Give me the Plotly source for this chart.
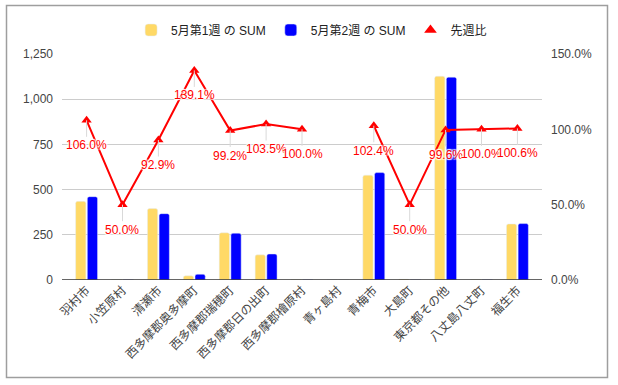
import plotly.graph_objects as go

categories = ["羽村市", "小笠原村", "清瀬市", "西多摩郡奥多摩町", "西多摩郡瑞穂町", "西多摩郡日の出町",
              "西多摩郡檜原村", "青ヶ島村", "青梅市", "大島町", "東京都その他", "八丈島八丈町", "福生市"]
week1 = [435, 2, 395, 23, 261, 139, 1, 0, 580, 4, 1127, 1, 310]
week2 = [461, 1, 367, 32, 259, 144, 1, 0, 594, 2, 1122, 1, 312]
ratio = [106.0, 50.0, 92.9, 139.1, 99.2, 103.5, 100.0, None, 102.4, 50.0, 99.6, 100.0, 100.6]

left_ticks = [0, 250, 500, 750, 1000, 1250]
left_labels = ["0", "250", "500", "750", "1,000", "1,250"]
right_ticks = [0, 50, 100, 150]
right_labels = ["0.0%", "50.0%", "100.0%", "150.0%"]

FONT = "Arial, 'Liberation Sans', 'Noto Sans CJK JP', sans-serif"
W, H = 618, 385
ML, MR, MT, MB = 62, 76, 54, 105
pw = W - ML - MR
ph = H - MT - MB

fig = go.Figure()
fig.add_trace(go.Bar(x=categories, y=week1, name="5月第1週 の SUM", marker_color="#ffd966"))
fig.add_trace(go.Bar(x=categories, y=week2, name="5月第2週 の SUM", marker_color="#0000ff"))
fig.add_trace(go.Scatter(x=categories, y=ratio, name="先週比", yaxis="y2", mode="lines+markers",
                         line=dict(color="#ff0000", width=2),
                         marker=dict(symbol="triangle-up", size=9, color="#ff0000"),
                         connectgaps=False, showlegend=False))
# legend entry for the ratio series (marker only, as in the reference legend)
fig.add_trace(go.Scatter(x=[None], y=[None], name="先週比", yaxis="y2", mode="markers",
                         marker=dict(symbol="triangle-up", size=11, color="#ff0000")))

annotations = []
for c, r in zip(categories, ratio):
    if r is None:
        continue
    annotations.append(dict(
        x=c, y=r, xref="x", yref="y2", text=f"{r:.1f}%",
        showarrow=True, arrowhead=0, arrowwidth=1, arrowcolor="#d9d9d9",
        ax=0, ay=25, standoff=0,
        font=dict(family=FONT, size=12, color="#ff0000",
                  shadow="1px 1px 1px #fff, -1px -1px 1px #fff, 1px -1px 1px #fff, -1px 1px 1px #fff"),
    ))

def px_to_paper_x(px):
    return (px - ML) / pw

def px_to_paper_y(py):
    return (H - MB - py) / ph

shapes = [
    dict(type="rect", xref="paper", yref="paper",
         x0=px_to_paper_x(6.5), x1=px_to_paper_x(607.5),
         y0=px_to_paper_y(377.5), y1=px_to_paper_y(5.5),
         line=dict(color="#9e9e9e", width=1.5), fillcolor="rgba(0,0,0,0)", layer="below"),
    dict(type="line", xref="paper", yref="y", x0=0, x1=1, y0=0, y1=0,
         line=dict(color="#333333", width=1.5), layer="above"),
]

n = len(categories)
fig.update_layout(
    width=W, height=H,
    margin=dict(l=ML, r=MR, t=MT, b=MB, pad=0),
    paper_bgcolor="white", plot_bgcolor="white",
    font=dict(family=FONT, size=12, color="#444"),
    barmode="group", bargap=0.35, bargroupgap=0.12, barcornerradius=2,
    showlegend=True,
    legend=dict(orientation="h", x=0.52, xanchor="center", y=px_to_paper_y(30), yanchor="middle",
                font=dict(family=FONT, size=12, color="#222"), itemwidth=30, traceorder="normal"),
    xaxis=dict(type="category", range=[-0.685, n - 1 + 0.685], tickangle=-45,
               showgrid=False, ticks="", tickfont=dict(size=12, color="#444"), showline=False),
    yaxis=dict(range=[0, 1250], tickmode="array", tickvals=left_ticks, ticktext=left_labels,
               showgrid=True, gridcolor="#cccccc", zeroline=False,
               tickfont=dict(size=12, color="#444"), ticks="", ticklabelstandoff=8),
    yaxis2=dict(range=[0, 150], tickmode="array", tickvals=right_ticks, ticktext=right_labels,
                overlaying="y", side="right", showgrid=False, zeroline=False,
                tickfont=dict(size=12, color="#444"), ticks="", ticklabelstandoff=8),
    annotations=annotations,
    shapes=shapes,
)

fig.write_html("out.html", config={"displayModeBar": False},
               post_script="document.body.style.margin='0';")
